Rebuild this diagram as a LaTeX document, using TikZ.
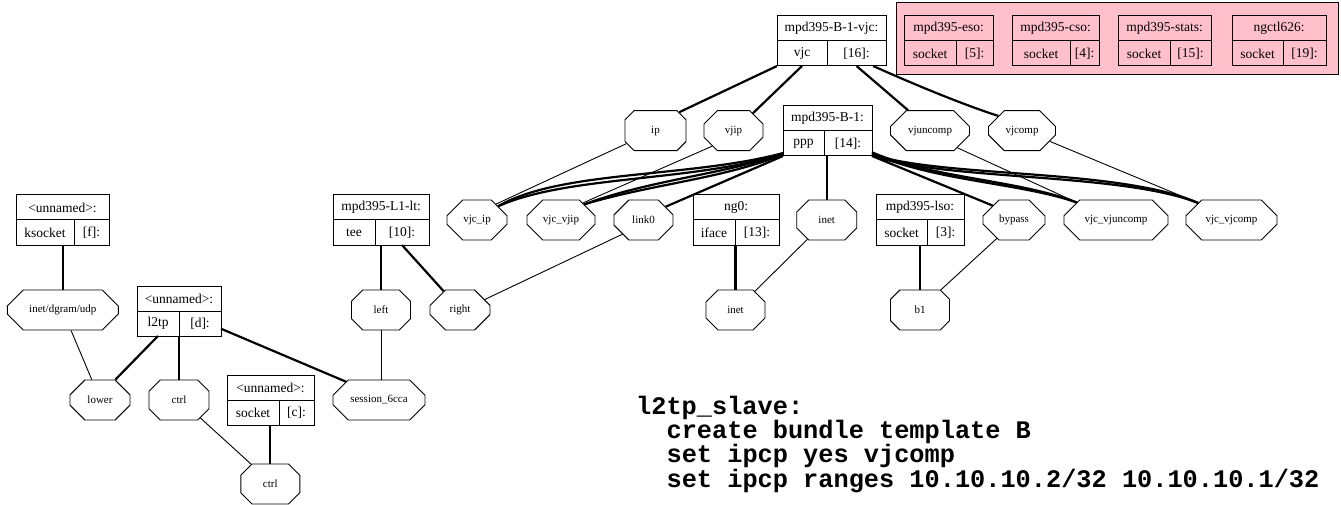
\documentclass[tikz,border=0pt]{standalone}
\usepackage{fontspec}
\setmainfont{Liberation Serif}
\newfontfamily\codefont{Liberation Mono}
\usetikzlibrary{shapes.misc,positioning}
\definecolor{clusterpink}{RGB}{255,192,203}

% record: name, x, y, total width, left width, title, left cell, right cell
\newcommand{\record}[8]{%
  \node[cell, anchor=north west, minimum width=#4] (#1) at (#2,#3) {#6};
  \node[cell, anchor=north west, minimum width=#5] (#1-l) at (#1.south west) {#7};
  \node[cell, right=0pt of #1-l, minimum width=#4-#5] (#1-r) {#8};
}

\begin{document}
\begin{tikzpicture}[x=1pt,y=-1pt,
    cell/.style={draw, line width=1pt, outer sep=0pt, inner sep=0pt, minimum height=25, font=\fontsize{13.5}{15}\selectfont},
    hook/.style={draw, chamfered rectangle, chamfered rectangle xsep=10pt, chamfered rectangle ysep=11pt, minimum height=40, inner sep=0pt, line width=0.9pt, font=\fontsize{11}{12}\selectfont},
    hooked/.style={line width=2.2pt},
    linked/.style={line width=0.9pt}]
    \useasboundingbox (0,0) rectangle (1341,505);
    \draw[fill=clusterpink, line width=1pt] (896,3) rectangle (1338,75);

    % records
    \record{vjcB}{777}{16}{109}{50}{mpd395-B-1-vjc:}{vjc}{[16]:}
    \record{eso}{904}{16}{89}{52}{mpd395-eso:}{socket}{[5]:}
    \record{cso}{1012}{16}{87}{58}{mpd395-cso:}{socket}{[4]:}
    \record{stats}{1118}{16}{93}{52}{mpd395-stats:}{socket}{[15]:}
    \record{ngctl}{1232}{16}{94}{51}{ngctl626:}{socket}{[19]:}
    \record{B1}{783}{106}{89}{41}{mpd395-B-1:}{ppp}{[14]:}
    \record{ks}{16}{195}{93}{58}{<unnamed>:}{ksocket}{[f]:}
    \record{tp}{137}{286}{84}{42}{<unnamed>:}{l2tp}{[d]:}
    \record{sock}{227}{375}{87}{52}{<unnamed>:}{socket}{[c]:}
    \record{lt}{333}{195}{96}{42}{mpd395-L1-lt:}{tee}{[10]:}
    \record{ng}{693}{195}{86}{42}{ng0:}{iface}{[13]:}
    \record{lso}{876}{195}{88}{51}{mpd395-lso:}{socket}{[3]:}

    % hooks
    \node[hook, minimum width=61] (ip) at (655.5,130.7) {ip};
    \node[hook, minimum width=59] (vjip) at (733.5,130.7) {vjip};
    \node[hook, minimum width=79, chamfered rectangle xsep=12pt] (vjuncomp) at (930,130.7) {vjuncomp};
    \node[hook, minimum width=67] (vjcomp) at (1022,130.7) {vjcomp};
    \node[hook, minimum width=60] (vjcip) at (477,220) {vjc\_ip};
    \node[hook, minimum width=68, chamfered rectangle xsep=12pt] (vjcvjip) at (561,220) {vjc\_vjip};
    \node[hook, minimum width=59] (link0) at (643.5,220) {link0};
    \node[hook, minimum width=60] (inetA) at (826.7,220) {inet};
    \node[hook, minimum width=62] (bypass) at (1014,220) {bypass};
    \node[hook, minimum width=104, chamfered rectangle xsep=14pt] (vjcvjuncomp) at (1116,220) {vjc\_vjuncomp};
    \node[hook, minimum width=91, chamfered rectangle xsep=14pt] (vjcvjcomp) at (1231.5,220) {vjc\_vjcomp};
    \node[hook, minimum width=59] (inetB) at (735.5,310) {inet};
    \node[hook, minimum width=59] (bone) at (920,310) {b1};
    \node[hook, minimum width=59] (teeleft) at (381,310) {left};
    \node[hook, minimum width=60] (teeright) at (460,310) {right};
    \node[hook, minimum width=111, chamfered rectangle xsep=32pt] (udp) at (62.8,310) {inet/dgram/udp};
    \node[hook, minimum width=60] (lower) at (100,400) {lower};
    \node[hook, minimum width=60] (ctrlA) at (179,400) {ctrl};
    \node[hook, minimum width=92, chamfered rectangle xsep=14pt] (session) at (379,400) {session\_6cca};
    \node[hook, minimum width=59] (ctrlB) at (270.3,484) {ctrl};

    % node to hook
    \draw[hooked] (vjcB-l.south west) -- (ip.38);
    \draw[hooked] (vjcB-l.south) -- (vjip.42);
    \draw[hooked] (vjcB-r.south) -- (vjuncomp.137);
    \draw[hooked] (vjcB-r.-37) .. controls (909.5,82.3) and (960.5,103.8) .. (vjcomp.148);
    \draw[hooked] (B1-l.205) .. controls (690,178) and (560,170) .. (vjcip.33);
    \draw[hooked] (B1-l.206) .. controls (695,182) and (568,175) .. (vjcip.33);
    \draw[hooked] (B1-l.207) .. controls (720,175) and (650,180) .. (vjcvjip.34);
    \draw[hooked] (B1-l.208) .. controls (722,179) and (652,184) .. (vjcvjip.34);
    \draw[hooked] (B1-l.south west) -- (link0.31);
    \draw[hooked] (inetA.north |- B1-r.south) -- (inetA.north);
    \draw[hooked] (B1-r.south east) -- (bypass.146);
    \draw[hooked] (B1-r.-20) .. controls (930,178) and (1020,180) .. (vjcvjuncomp.156);
    \draw[hooked] (B1-r.-22) .. controls (933,181) and (1022,183) .. (vjcvjuncomp.156);
    \draw[hooked] (B1-r.-24) .. controls (940,178) and (1120,168) .. (vjcvjcomp.153);
    \draw[hooked] (B1-r.-26) .. controls (942,181) and (1120,172) .. (vjcvjcomp.153);
    \draw[hooked] (udp.north |- ks-l.south) -- (udp.north);
    \draw[hooked] (tp-l.south) -- (lower.53);
    \draw[hooked] (ctrlA.north |- tp-l.south) -- (ctrlA.north);
    \draw[hooked] (tp-r.-14) -- (session.151);
    \draw[hooked] (ctrlB.north |- sock-l.south) -- (ctrlB.north);
    \draw[hooked] (teeleft.north |- lt-r.south) -- (teeleft.north);
    \draw[hooked] (lt-r.south) -- (teeright.131);
    \draw[hooked] (inetB.north |- ng-l.south) -- (inetB.north);
    \draw[hooked] (bone.north |- lso-l.south) -- (bone.north);

    % hook to hook
    \draw[linked] (ip.204) -- (vjcip.40);
    \draw[linked] (vjip.216) -- (vjcvjip.38);
    \draw[linked] (vjuncomp.-32) -- (vjcvjuncomp.156);
    \draw[linked] (vjcomp.-21) -- (vjcvjcomp.153);
    \draw[linked] (link0.214) -- (teeright.23);
    \draw[linked] (inetA.225) -- (inetB.44);
    \draw[linked] (bypass.227) -- (bone.44);
    \draw[linked] (udp.-68) -- (lower.112);
    \draw[linked] (ctrlA.-40) -- (ctrlB.134);
    \draw[linked] (teeleft.south) -- (teeleft.south |- session.north);

    % config
    \node[anchor=base west, align=left, inner sep=0pt, font=\codefont\bfseries\fontsize{25.3}{24.2}\selectfont] (conf) at (636,487)
        {l2tp\_slave:\\
         \hspace*{30.4pt}create bundle template B\\
         \hspace*{30.4pt}set ipcp yes vjcomp\\
         \hspace*{30.4pt}set ipcp ranges 10.10.10.2/32 10.10.10.1/32};
\end{tikzpicture}
\end{document}
